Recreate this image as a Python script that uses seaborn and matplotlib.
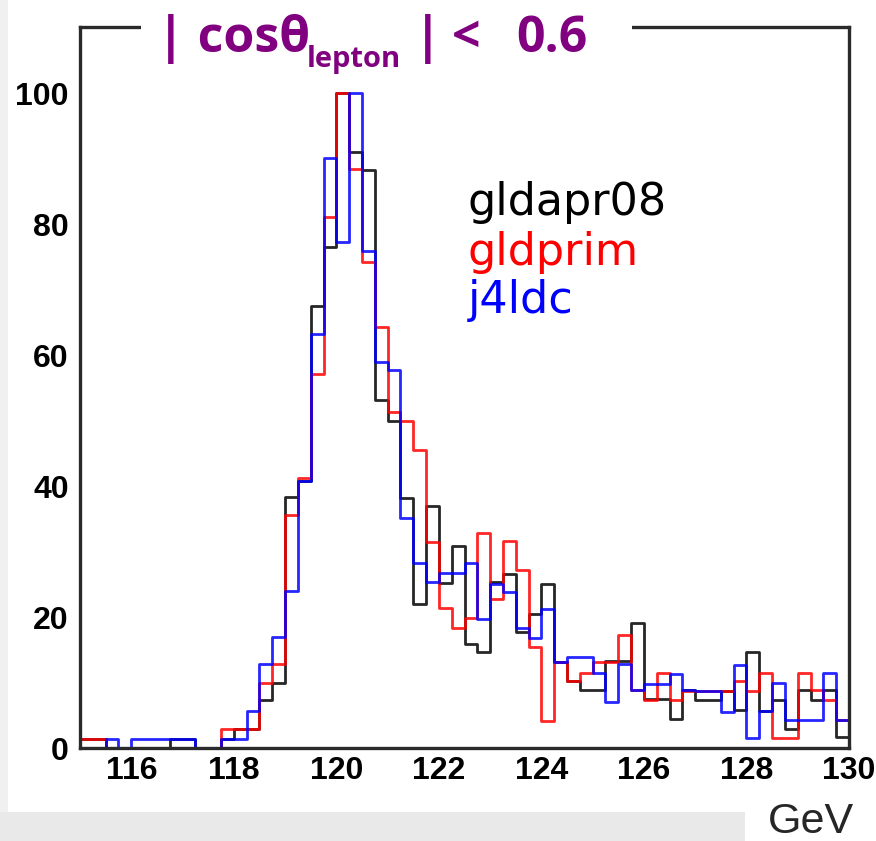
import numpy as np
import pandas as pd
import matplotlib
matplotlib.use("Agg")
import matplotlib.pyplot as plt
from matplotlib.patches import Rectangle
from matplotlib.ticker import MultipleLocator
import seaborn as sns

# Reconstructed mass spectrum, 0.25 GeV bins from 115 to 130 GeV, normalised to peak = 100
mass_range = (115.0, 130.0)
n_bins = 60

gldapr08 = [1.4, 1.4, 0, 0, 0, 0, 0, 1.4, 1.4, 0, 0, 1.4,
            2.9, 2.9, 7.3, 10.0, 38.3, 40.8, 67.6, 76.5, 100, 91.1, 88.3, 53.1,
            49.9, 38.2, 22.0, 36.9, 25.2, 30.9, 15.9, 14.6, 25.3, 26.6, 17.7, 20.5,
            25.1, 13.1, 10.3, 8.9, 8.9, 13.3, 13.3, 19.1, 7.5, 7.5, 4.5, 8.8,
            7.4, 7.4, 8.7, 5.8, 14.6, 5.7, 7.4, 2.9, 8.8, 7.4, 8.8, 1.7]

gldprim = [1.4, 1.4, 0, 0, 0, 0, 0, 0, 0, 0, 0, 2.9,
           2.9, 2.9, 10.0, 12.9, 35.6, 41.3, 57.2, 81.2, 100, 88.4, 74.2, 64.3,
           51.4, 49.9, 45.6, 31.5, 21.4, 18.4, 19.9, 32.8, 22.8, 31.6, 27.2, 15.5,
           4.2, 13.1, 10.3, 11.4, 13.1, 13.1, 17.2, 8.8, 7.3, 11.4, 7.3, 8.7,
           8.7, 8.7, 8.7, 10.2, 8.7, 11.4, 1.5, 1.5, 11.4, 8.8, 7.3, 4.3]

j4ldc = [0, 0, 1.4, 0, 1.4, 1.4, 1.4, 1.4, 1.4, 0, 0, 1.4,
         1.4, 5.7, 12.9, 16.9, 24.0, 40.8, 63.3, 90.1, 77.3, 100, 75.9, 59.0,
         57.8, 35.2, 28.2, 25.4, 26.7, 26.7, 28.2, 19.7, 25.1, 23.9, 18.3, 16.8,
         21.2, 13.1, 13.9, 13.9, 11.4, 7.1, 12.9, 8.8, 9.8, 9.8, 11.3, 8.8,
         8.7, 8.7, 5.5, 12.7, 1.5, 5.7, 9.9, 4.3, 4.3, 4.3, 11.4, 4.3]

samples = ["gldapr08", "gldprim", "j4ldc"]
colors = {"gldapr08": "black", "gldprim": "#ff0000", "j4ldc": "#0000ff"}
x_ticks = [116, 118, 120, 122, 124, 126, 128, 130]
y_ticks = [0, 20, 40, 60, 80, 100]

edges = np.linspace(mass_range[0], mass_range[1], n_bins + 1)
centers = 0.5 * (edges[:-1] + edges[1:])
df = pd.concat([
    pd.DataFrame({"mass": centers, "entries": vals, "sample": name})
    for name, vals in zip(samples, [gldapr08, gldprim, j4ldc])
], ignore_index=True)

sns.set_theme(style="white")
plt.rcParams["font.family"] = ["Liberation Sans", "DejaVu Sans"]

W, H = 876, 841
fig = plt.figure(figsize=(W / 100, H / 100), dpi=100)
fig.patch.set_facecolor("white")


def fx(px):
    return px / W


def fy(py):
    return 1 - py / H


# light slide background strips
fig.add_artist(Rectangle((0, 0), fx(8), 1, transform=fig.transFigure,
                         facecolor="#f0f0f0", edgecolor="none", zorder=-5))
fig.add_artist(Rectangle((0, 0), fx(745), 29 / H, transform=fig.transFigure,
                         facecolor="#e9e9e9", edgecolor="none", zorder=-5))

ax = fig.add_axes([fx(80), fy(748), (849 - 80) / W, (748 - 26.7) / H])

for name in samples:
    sns.histplot(data=df[df["sample"] == name], x="mass", weights="entries",
                 bins=n_bins, binrange=mass_range, element="step", fill=False,
                 color=colors[name], linewidth=2.0, alpha=0.85, ax=ax)

ax.set_xlim(*mass_range)
ax.set_ylim(0, 110.2)
ax.set_xlabel("")
ax.set_ylabel("")
ax.set_xticks(x_ticks)
ax.set_yticks(y_ticks)
ax.xaxis.set_minor_locator(MultipleLocator(0.25))
ax.yaxis.set_minor_locator(MultipleLocator(5))
ax.tick_params(axis="both", which="both", direction="in", colors="#2a2a2a",
               labelcolor="black", width=2.0)
ax.tick_params(axis="x", which="major", length=13, labelsize=23, pad=6)
ax.tick_params(axis="x", which="minor", length=8)
ax.tick_params(axis="y", which="major", length=20, labelsize=23, pad=8)
ax.tick_params(axis="y", which="minor", length=12)
for lab in ax.get_xticklabels() + ax.get_yticklabels():
    lab.set_fontweight("bold")
for sp in ax.spines.values():
    sp.set_visible(True)
    sp.set_color("#2a2a2a")
    sp.set_linewidth(2.4)

# legend entries as coloured text
for i, name in enumerate(samples):
    fig.text(fx(468), fy(203 + 49 * i), name, color=colors[name], fontsize=32,
             family=["DejaVu Sans"], va="center", ha="left")

# selection label sitting on the top frame, with a gap cut into the frame line
purple = "#800080"
title_font = ["Open Sans", "DejaVu Sans"]
fig.add_artist(Rectangle((fx(141), fy(36)), fx(632) - fx(141), 20 / H,
                         transform=fig.transFigure, facecolor="white",
                         edgecolor="none", zorder=9))
title_kw = dict(color=purple, fontweight="bold", family=title_font,
                va="baseline", zorder=10)
fig.text(fx(157), fy(52), "| cosθ", fontsize=36, ha="left", **title_kw)
fig.text(fx(307), fy(67), "lepton", fontsize=21, ha="left", **title_kw)
fig.text(fx(428), fy(52), "|", fontsize=36, ha="center", **title_kw)
fig.text(fx(452), fy(52), "<", fontsize=36, ha="left", **title_kw)
fig.text(fx(588), fy(52), "0.6", fontsize=36, ha="right", **title_kw)

fig.text(fx(811), fy(822), "GeV", fontsize=31, ha="center", va="center",
         family=["Liberation Sans", "DejaVu Sans"])

fig.savefig("out.png", dpi=100)
